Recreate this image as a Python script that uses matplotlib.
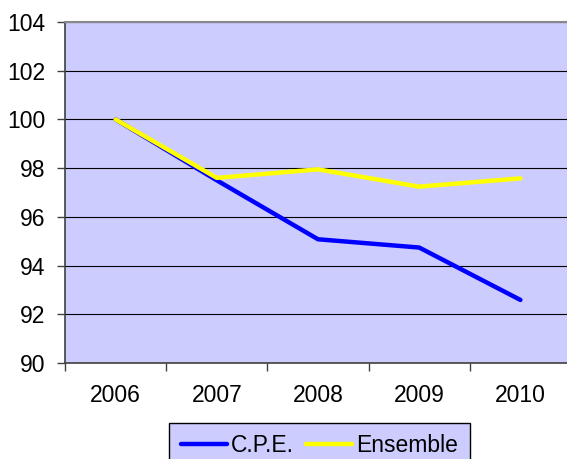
import matplotlib.pyplot as plt

plt.rcParams['font.family'] = ['Liberation Sans', 'DejaVu Sans']

annees = ["2006", "2007", "2008", "2009", "2010"]
cpe = [100, 97.5, 95.08, 94.74, 92.59]
ensemble = [100, 97.6, 97.95, 97.24, 97.58]

fig = plt.figure(figsize=(5.67, 4.59), dpi=100)
ax = fig.add_axes([65 / 567, 96 / 459, 506 / 567, 341 / 459])
ax.set_facecolor("#CCCCFF")

x = list(range(len(annees)))
ax.plot(x, cpe, color="#0000FF", lw=3.2, solid_capstyle="round", label="C.P.E.")
ax.plot(x, ensemble, color="#FFFF00", lw=3.2, solid_capstyle="round", label="Ensemble")

ax.set_xlim(-0.5, len(annees) - 0.5)
ax.set_ylim(90, 104)
ax.set_yticks(range(90, 105, 2))
ax.yaxis.grid(True, color="black", lw=0.8)
ax.set_axisbelow(True)

# labels au centre, graduations entre les categories
ax.set_xticks(x)
ax.set_xticklabels(annees)
ax.set_xticks([i - 0.5 for i in range(len(annees) + 1)], minor=True)
ax.tick_params(axis="x", which="major", length=0, pad=15, labelsize=16.5)
ax.tick_params(axis="x", which="minor", length=6, width=1, color="#404040")
ax.tick_params(axis="y", length=6, width=1, color="#404040", pad=8, labelsize=16.5)

for cote in ["left", "bottom"]:
    ax.spines[cote].set_color("#404040")
    ax.spines[cote].set_linewidth(1.2)
ax.spines["top"].set_color("#888888")
ax.spines["top"].set_linewidth(1.5)
ax.spines["right"].set_color("#888888")

leg = fig.legend(loc="upper center", bbox_to_anchor=(319.5 / 567, 1 - 423 / 459),
                 ncol=2, fontsize=16.5, frameon=True, fancybox=False,
                 handlelength=2.0, handletextpad=0.2, columnspacing=0.5,
                 borderpad=0.5, borderaxespad=0)
leg.get_frame().set_facecolor("#CCCCFF")
leg.get_frame().set_edgecolor("black")
leg.get_frame().set_linewidth(1)
leg.get_frame().set_alpha(1)

fig.savefig("out.png", dpi=100)
